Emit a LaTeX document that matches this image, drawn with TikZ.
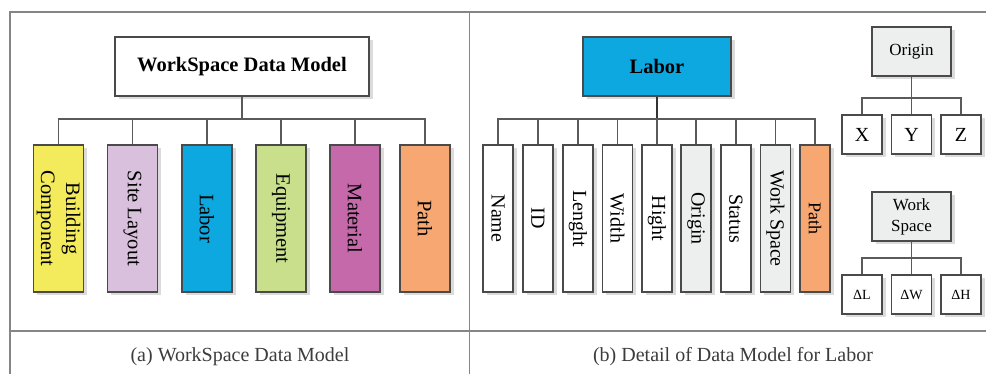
\documentclass[tikz,border=0pt]{standalone}
\usepackage{fontspec}
\setmainfont{Liberation Serif}
\usetikzlibrary{shadows}

\definecolor{framegray}{HTML}{858585}
\definecolor{boxline}{HTML}{4A4A4A}
\definecolor{linkgray}{HTML}{5A5A5A}
\definecolor{capgray}{HTML}{3C3C3C}
\definecolor{cyellow}{HTML}{F3EB5B}
\definecolor{clilac}{HTML}{D9C1DD}
\definecolor{cblue}{HTML}{0EA8E0}
\definecolor{cgreen}{HTML}{C9DF8C}
\definecolor{cmagenta}{HTML}{C669AB}
\definecolor{corange}{HTML}{F7A872}
\definecolor{cpale}{HTML}{EDEFEE}

\newcommand{\vtext}[1]{\rotatebox{-90}{#1}}

\tikzset{
  box/.style={draw=boxline, line width=1.2pt, inner sep=0pt, align=center,
    drop shadow={shadow xshift=3.5pt, shadow yshift=-3.5pt, fill=black!14, opacity=1}},
  headbox/.style={box, minimum width=#1, minimum height=59pt,
    font=\fontsize{20.5}{24}\selectfont\bfseries},
  tallbox/.style={box, minimum width=50pt, minimum height=147pt,
    font=\fontsize{20.5}{25}\selectfont},
  slimbox/.style={box, minimum width=30pt, minimum height=147pt,
    font=\fontsize{20}{24}\selectfont},
  subhead/.style={box, fill=cpale, minimum width=79pt, minimum height=49pt,
    font=\fontsize{17}{21}\selectfont},
  leaf/.style={box, minimum width=40pt, minimum height=39pt},
  link/.style={draw=linkgray, line width=1.5pt},
  frame/.style={draw=framegray, line width=1.6pt},
  caption/.style={text=capgray, font=\fontsize{20}{24}\selectfont}
}

\begin{document}
\begin{tikzpicture}[x=1pt, y=-1pt]
\useasboundingbox (0,0) rectangle (986,374);

% panel frame
\draw[frame] (10,374) -- (10,12) -- (986,12);
\draw[frame] (10,331) -- (986,331);
\draw[frame] (469.5,12) -- (469.5,374);

% ---------- left panel: overall data model ----------
\node[headbox=254pt, fill=white] (wsdm) at (242,66.5) {WorkSpace Data Model};
\coordinate (busL) at (0,119);

\node[tallbox, fill=cyellow]  (bc)  at (58.5,218.5)  {\vtext{\begin{tabular}{@{}c@{}}Building\\Component\end{tabular}}};
\node[tallbox, fill=clilac]   (sl)  at (132.5,218.5) {\vtext{Site Layout}};
\node[tallbox, fill=cblue]    (lab) at (207,218.5)   {\vtext{Labor}};
\node[tallbox, fill=cgreen]   (eq)  at (281,218.5)   {\vtext{Equipment}};
\node[tallbox, fill=cmagenta] (mat) at (355,218.5)   {\vtext{Material}};
\node[tallbox, fill=corange]  (pth) at (425,218.5)   {\vtext{Path}};

\draw[link] (wsdm.south) -- (wsdm.south |- busL);
\foreach \c in {bc,sl,lab,eq,mat,pth}
  \draw[link] (wsdm.south |- busL) -| (\c.north);

\node[caption] (capA) at (240,357) {(a) WorkSpace Data Model};

% ---------- right panel: labor detail ----------
\node[headbox=148pt, fill=cblue] (labor) at (657,66.5) {Labor};
\coordinate (busR) at (0,119);

\node[slimbox, fill=white]   (nm) at (498,218.5)   {\vtext{Name}};
\node[slimbox, fill=white]   (id) at (538,218.5)   {\vtext{ID}};
\node[slimbox, fill=white]   (ln) at (578,218.5)   {\vtext{Lenght}};
\node[slimbox, fill=white]   (wd) at (617.5,218.5) {\vtext{Width}};
\node[slimbox, fill=white]   (ht) at (657,218.5)   {\vtext{Hight}};
\node[slimbox, fill=cpale]   (og) at (696,218.5)   {\vtext{Origin}};
\node[slimbox, fill=white]   (st) at (736,218.5)   {\vtext{Status}};
\node[slimbox, fill=cpale]   (ws) at (775.5,218.5) {\vtext{Work Space}};
\node[slimbox, fill=corange, font=\fontsize{18}{22}\selectfont] (pa) at (815,218.5) {\vtext{Path}};

\draw[link, draw=black!80] (labor.south) -- (labor.south |- busR);
\foreach \c in {nm,id,ln,wd,ht,og,st,ws,pa}
  \draw[link] (labor.south |- busR) -| (\c.north);

% origin breakdown
\node[subhead] (orig) at (911.5,51.5) {Origin};
\coordinate (busO) at (0,98);
\node[leaf, fill=white, font=\fontsize{20}{24}\selectfont] (ox) at (862,134.5) {X};
\node[leaf, fill=white, font=\fontsize{20}{24}\selectfont] (oy) at (911.5,134.5) {Y};
\node[leaf, fill=white, font=\fontsize{20}{24}\selectfont] (oz) at (961,134.5) {Z};
\draw[link] (orig.south) -- (orig.south |- busO);
\foreach \c in {ox,oy,oz}
  \draw[link] (orig.south |- busO) -| (\c.north);

% work space breakdown
\node[subhead] (wspc) at (911.5,216.5) {Work\\Space};
\coordinate (busW) at (0,258);
\node[leaf, fill=white, font=\fontsize{14}{17}\selectfont] (dl) at (862,294.5) {ΔL};
\node[leaf, fill=white, font=\fontsize{14}{17}\selectfont] (dw) at (911.5,294.5) {ΔW};
\node[leaf, fill=white, font=\fontsize{14}{17}\selectfont] (dh) at (961,294.5) {ΔH};
\draw[link] (wspc.south) -- (wspc.south |- busW);
\foreach \c in {dl,dw,dh}
  \draw[link] (wspc.south |- busW) -| (\c.north);

\node[caption] (capB) at (733,357) {(b) Detail of Data Model for Labor};
\end{tikzpicture}
\end{document}
